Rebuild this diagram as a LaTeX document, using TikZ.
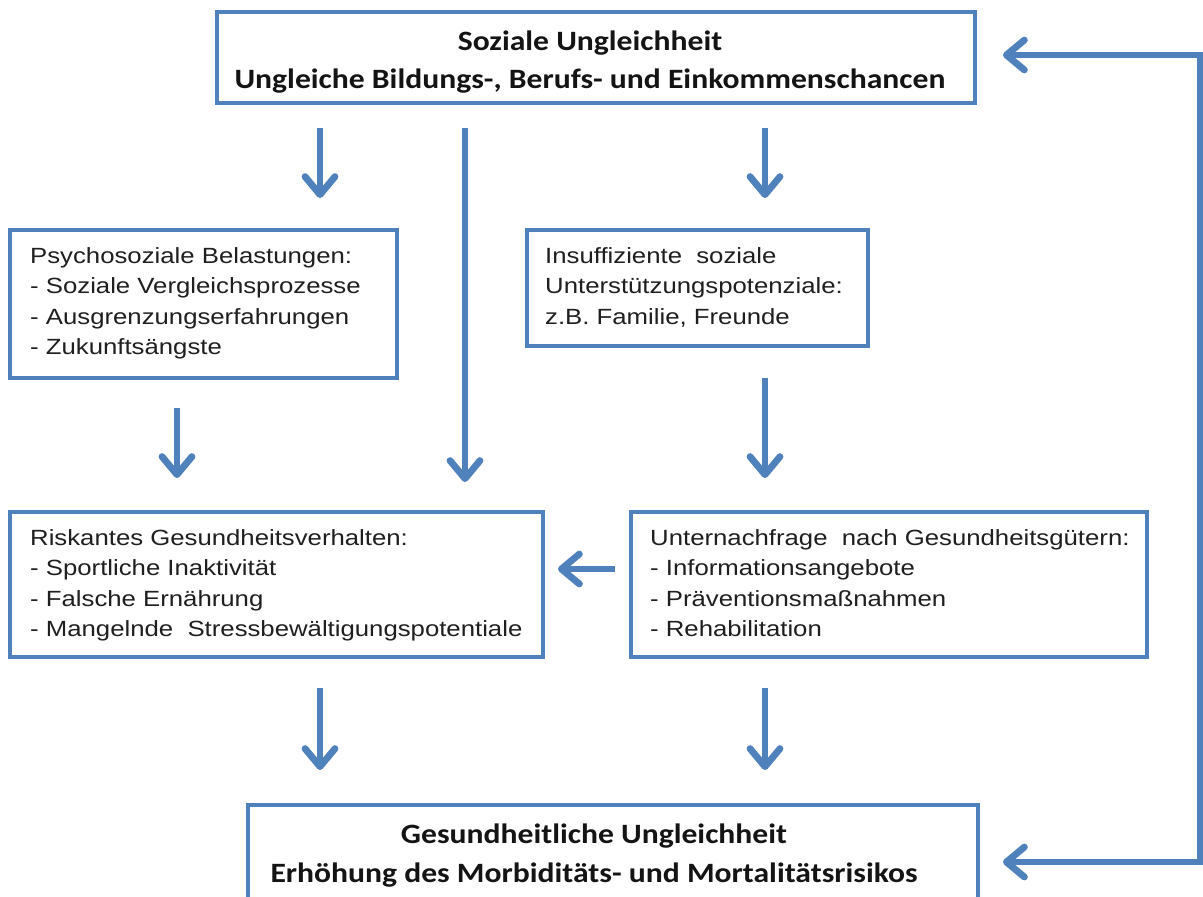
\documentclass[tikz,border=0pt]{standalone}
\usepackage{fontspec}
\setmainfont{Liberation Sans}
\newfontfamily\bodyfont[FakeStretch=1.17]{Liberation Sans}
\newfontfamily\headfont[FakeStretch=1.13]{Carlito}
\usetikzlibrary{arrows.meta,calc}
\definecolor{boxblue}{RGB}{79,129,189}
\begin{document}
\begin{tikzpicture}[x=1pt,y=-1pt,
  box/.style={draw=boxblue,line width=4.5pt,anchor=north west,inner sep=0pt,outer sep=0pt},
  body/.style={anchor=north west,inner sep=0pt,align=left,
    font=\bodyfont\fontsize{22}{30.5}\selectfont,text=black!88},
  head/.style={anchor=north,inner sep=0pt,align=center,
    font=\headfont\bfseries\fontsize{28}{38}\selectfont,text=black!92},
  arr/.style={draw=boxblue,line width=6.8pt,
    -{Straight Barb[length=18pt,width=30pt,round]}}]
\clip (0,0) rectangle (1203,897);
\fill[white] (0,0) rectangle (1203,897);

% boxes
\node[box,minimum width=758,minimum height=91] (top) at (217,12) {};
\node[box,minimum width=387,minimum height=148] (psy) at (10,230) {};
\node[box,minimum width=341,minimum height=116] (sup) at (527,230) {};
\node[box,minimum width=533,minimum height=145] (risk) at (10,512) {};
\node[box,minimum width=516,minimum height=145] (dem) at (631,512) {};
\node[box,minimum width=730,minimum height=110] (bot) at (248,805) {};

% texts
\node[head] (toptext) at (590,30.5) {Soziale Ungleichheit\\Ungleiche Bildungs-, Berufs- und Einkommenschancen};
\node[body] (psytext) at (30,247) {Psychosoziale Belastungen:\\- Soziale Vergleichsprozesse\\- Ausgrenzungserfahrungen\\- Zukunftsängste};
\node[body] (suptext) at (545,247) {Insuffiziente\ \ soziale\\Unterstützungspotenziale:\\z.B. Familie, Freunde};
\node[body] (risktext) at (30,529) {Riskantes Gesundheitsverhalten:\\- Sportliche Inaktivität\\- Falsche Ernährung\\- Mangelnde\ \ Stressbewältigungspotentiale};
\node[body] (demtext) at (650,529) {Unternachfrage\ \ nach Gesundheitsgütern:\\- Informationsangebote\\- Präventionsmaßnahmen\\- Rehabilitation};
\node[head] (bottext) at (594,824) {Gesundheitliche Ungleichheit\\[1pt]Erhöhung des Morbiditäts- und Mortalitätsrisikos};

% arrow columns
\coordinate (cA) at (320,0);
\coordinate (cB) at (465,0);
\coordinate (cC) at (765,0);
\coordinate (cD) at (177,0);
\coordinate (loopT) at (1200,55);
\coordinate (loopB) at (1200,862);
\coordinate (loopM) at (1200,458);

% vertical arrows
\draw[arr,shorten <=25,shorten >=32] (top.south -| cA) -- (psy.north -| cA);
\draw[arr,shorten <=25,shorten >=30] (top.south -| cB) -- (risk.north -| cB);
\draw[arr,shorten <=25,shorten >=32] (top.south -| cC) -- (sup.north -| cC);
\draw[arr,shorten <=30,shorten >=34] (psy.south -| cD) -- (risk.north -| cD);
\draw[arr,shorten <=32,shorten >=34] (sup.south -| cC) -- (dem.north -| cC);
\draw[arr,shorten <=31,shorten >=35] (risk.south -| cA) -- (bot.north -| cA);
\draw[arr,shorten <=31,shorten >=35] (dem.south -| cC) -- (bot.north -| cC);
% horizontal arrow
\draw[arr,shorten <=16,shorten >=15] (dem.west |- 0,569) -- (risk.east |- 0,569);
% feedback loop on the right
\draw[arr,shorten >=28] (loopM) -- (loopT) -- (top.east |- loopT);
\draw[arr,shorten >=25] (loopM) -- (loopB) -- (bot.east |- loopB);
\end{tikzpicture}
\end{document}
